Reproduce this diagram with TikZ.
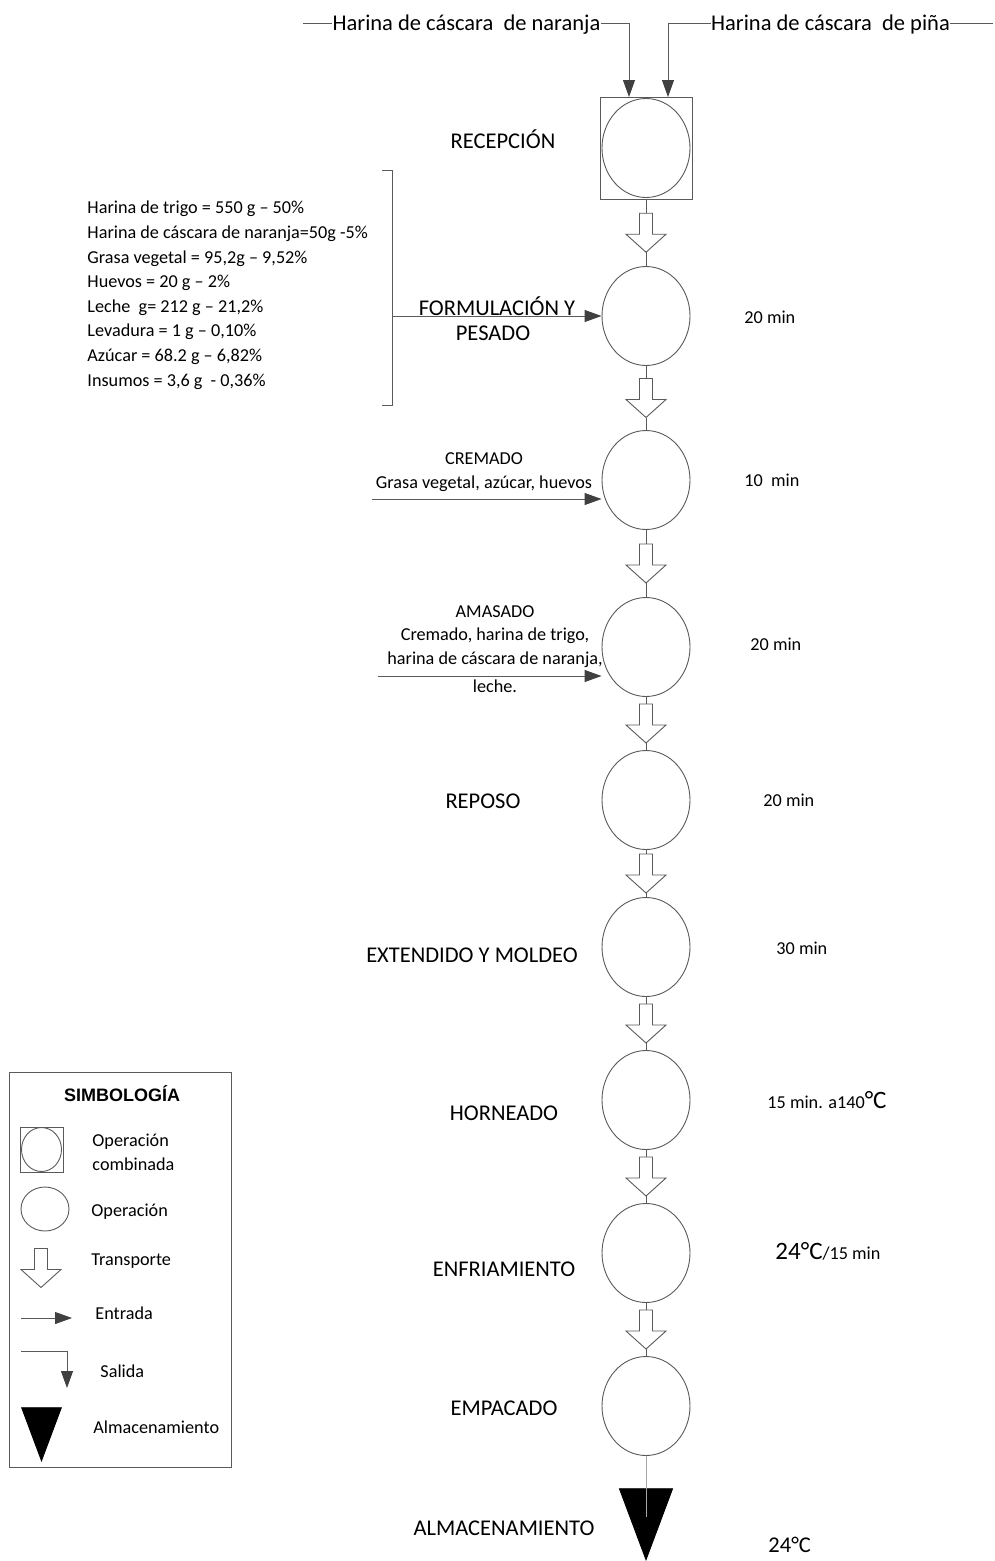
\documentclass[tikz,border=0pt]{standalone}
\usepackage{fontspec}
\setmainfont{Carlito}
\newfontfamily\arialb{Liberation Sans}
\usetikzlibrary{arrows.meta,shapes.geometric,calc}
\definecolor{lc}{RGB}{90,90,90}
\definecolor{hc}{RGB}{64,64,64}
\begin{document}
\begin{tikzpicture}[x=1pt,y=-1pt,line width=0.9pt,
  op/.style={ellipse,draw=lc,fill=white,minimum width=88,minimum height=99,inner sep=0},
  lbl/.style={inner sep=0,text=black},
  big/.style={lbl,font=\fontsize{22.5}{27}\selectfont,text height=18.45pt,text depth=4.05pt},
  small/.style={lbl,font=\fontsize{18.2}{22}\selectfont,text height=14.8pt,text depth=3.2pt},
  conn/.style={draw=lc},
  entr/.style={draw=lc,-{Triangle[length=17pt,width=12pt,color=hc]}},
  tr/.pic={\draw[draw=lc,fill=white] (-6.5,-19.5) -- (6.5,-19.5) -- (6.5,1.5) -- (20,1.5) -- (0,19.5) -- (-20,1.5) -- (-6.5,1.5) -- cycle;
           \coordinate (-top) at (0,-19.5); \coordinate (-tip) at (0,19.5);}
]
\useasboundingbox (0,0) rectangle (994,1561);

% ---- top inputs
\node[big] (in1) at (466.5,23) {Harina de cáscara\ \ de naranja};
\node[big] (in2) at (830.5,23) {Harina de cáscara\ \ de piña};
\coordinate (s1) at (303,23);
\coordinate (s2) at (993,23);
\node[draw=lc,minimum width=92,minimum height=102,inner sep=0] (sq) at (646,148) {};
\node[op] (c1) at (646,148) {};
\coordinate (a1) at (629,97);
\coordinate (a2) at (668,97);
\draw[conn] (s1) -- (in1.west);
\draw[entr] (in1.east) -| (a1);
\draw[conn] (in2.east) -- (s2);
\draw[entr] (in2.west) -| (a2);

% ---- process circles
\node[op] (c2) at (646,316) {};
\node[op] (c3) at (646,480) {};
\node[op] (c4) at (646,647) {};
\node[op] (c5) at (646,800) {};
\node[op] (c6) at (646,947) {};
\node[op] (c7) at (646,1100) {};
\node[op] (c8) at (646,1253) {};
\node[op] (c9) at (646,1406) {};

% ---- transports
\foreach \a/\b/\n in {sq/c2/t1,c2/c3/t2,c3/c4/t3,c4/c5/t4,c5/c6/t5,c6/c7/t6,c7/c8/t7,c8/c9/t8}{
  \coordinate (m-\n) at ($(\a.south)!0.5!(\b.north)$);
  \pic (\n) at (m-\n) {tr};
  \draw[conn] (\a.south) -- (\n-top);
  \draw[conn] (\n-tip) -- (\b.north);
}

% ---- storage
\node[isosceles triangle,isosceles triangle apex angle=41,shape border rotate=-90,fill=black,draw=black,inner sep=0,minimum height=71,anchor=apex] (alm) at (646,1561) {};
\coordinate (alin) at (646,1517);
\draw[draw=gray!70] (c9.south) -- (alin);

% ---- stage labels
\node[big] (lrec) at (503,141) {RECEPCIÓN};
\node[big] (lfor1) at (497,308) {FORMULACIÓN Y};
\node[big] (lfor2) at (493,333) {PESADO};
\node[big] (lrep) at (483,801) {REPOSO};
\node[big] (lext) at (472,955) {EXTENDIDO Y MOLDEO};
\node[big] (lhor) at (504,1113) {HORNEADO};
\node[big] (lenf) at (504,1269) {ENFRIAMIENTO};
\node[big] (lemp) at (504,1408) {EMPACADO};
\node[big] (lalm) at (504,1528) {ALMACENAMIENTO};

% ---- formulation list and bracket
\foreach \t [count=\i from 0] in {Harina de trigo = 550 g – 50\%,
  Harina de cáscara de naranja=50g -5\%,
  Grasa vegetal = 95{,}2g – 9{,}52\%,
  Huevos = 20 g – 2\%,
  Leche\ \ g= 212 g – 21{,}2\%,
  Levadura = 1 g – 0{,}10\%,
  Azúcar = 68.2 g – 6{,}82\%,
  Insumos = 3{,}6 g\ \ - 0{,}36\%}{
  \node[small,anchor=west] (f\i) at (87,208+24.6*\i) {\t};
}
\coordinate (bt) at (382,170);
\coordinate (bb) at (382,405);
\coordinate (bm) at (392,316);
\draw[conn] (bt) -- ++(10,0) |- (bb);
\draw[entr] (bm) -- (c2.west);

% ---- cremado
\node[small] (lcre1) at (484,459) {CREMADO};
\node[small] (lcre2) at (484,483) {Grasa vegetal, azúcar, huevos};
\coordinate (e3) at (372,499);
\draw[entr] (e3) -- (e3 -| c3.west);

% ---- amasado
\node[small] (lama1) at (495,612) {AMASADO};
\node[small] (lama2) at (495,635) {Cremado, harina de trigo,};
\node[small] (lama3) at (495,659) {harina de cáscara de naranja,};
\node[small] (lama4) at (495,687) {leche.};
\coordinate (e4) at (378,676);
\draw[entr] (e4) -- (e4 -| c4.west);

% ---- times
\node[small,anchor=west] (tm2) at (744,318) {20 min};
\node[small,anchor=west] (tm3) at (744,481) {10\ \ min};
\node[small,anchor=west] (tm4) at (750,645) {20 min};
\node[small,anchor=west] (tm5) at (763,801) {20 min};
\node[small,anchor=west] (tm6) at (776,949) {30 min};
\node[small,anchor=west] (tm7) at (767,1103) {15 min. a140{\fontsize{25}{28}\selectfont°C}};
\node[small,anchor=west] (tm8) at (775,1254) {{\fontsize{25}{28}\selectfont24°C}/15 min};
\node[big,anchor=west] (tm9) at (768,1545) {24°C};

% ---- legend
\draw[draw=lc] (9,1072) rectangle (231,1467);
\node[lbl,font=\arialb\bfseries\fontsize{18}{22}\selectfont,text height=13pt,text depth=0pt] (lgt) at (122,1095) {SIMBOLOGÍA};
\node[draw=lc,minimum width=43,minimum height=45,inner sep=0] (lsq) at (41.5,1149.5) {};
\node[ellipse,draw=lc,minimum width=40,minimum height=44,inner sep=0] (lsc) at (41.5,1149.5) {};
\node[small,anchor=west] (lg1a) at (92,1141) {Operación};
\node[small,anchor=west] (lg1b) at (92,1165) {combinada};
\node[ellipse,draw=lc,minimum width=48,minimum height=44,inner sep=0] (lci) at (45,1209) {};
\node[small,anchor=west] (lg2) at (91,1211) {Operación};
\pic (lt) at (41,1268) {tr};
\node[small,anchor=west] (lg3) at (91,1260) {Transporte};
\coordinate (le1) at (21,1318);
\coordinate (le2) at (72,1318);
\draw[entr] (le1) -- (le2);
\node[small,anchor=west] (lg4) at (95,1314) {Entrada};
\coordinate (ls1) at (21,1351);
\coordinate (ls2) at (67,1388);
\draw[entr] (ls1) -| (ls2);
\node[small,anchor=west] (lg5) at (100,1372) {Salida};
\node[isosceles triangle,isosceles triangle apex angle=41,shape border rotate=-90,fill=black,draw=black,inner sep=0,minimum height=53,anchor=apex] (ltri) at (41.5,1462) {};
\node[small,anchor=west] (lg6) at (93,1428) {Almacenamiento};
\end{tikzpicture}
\end{document}
